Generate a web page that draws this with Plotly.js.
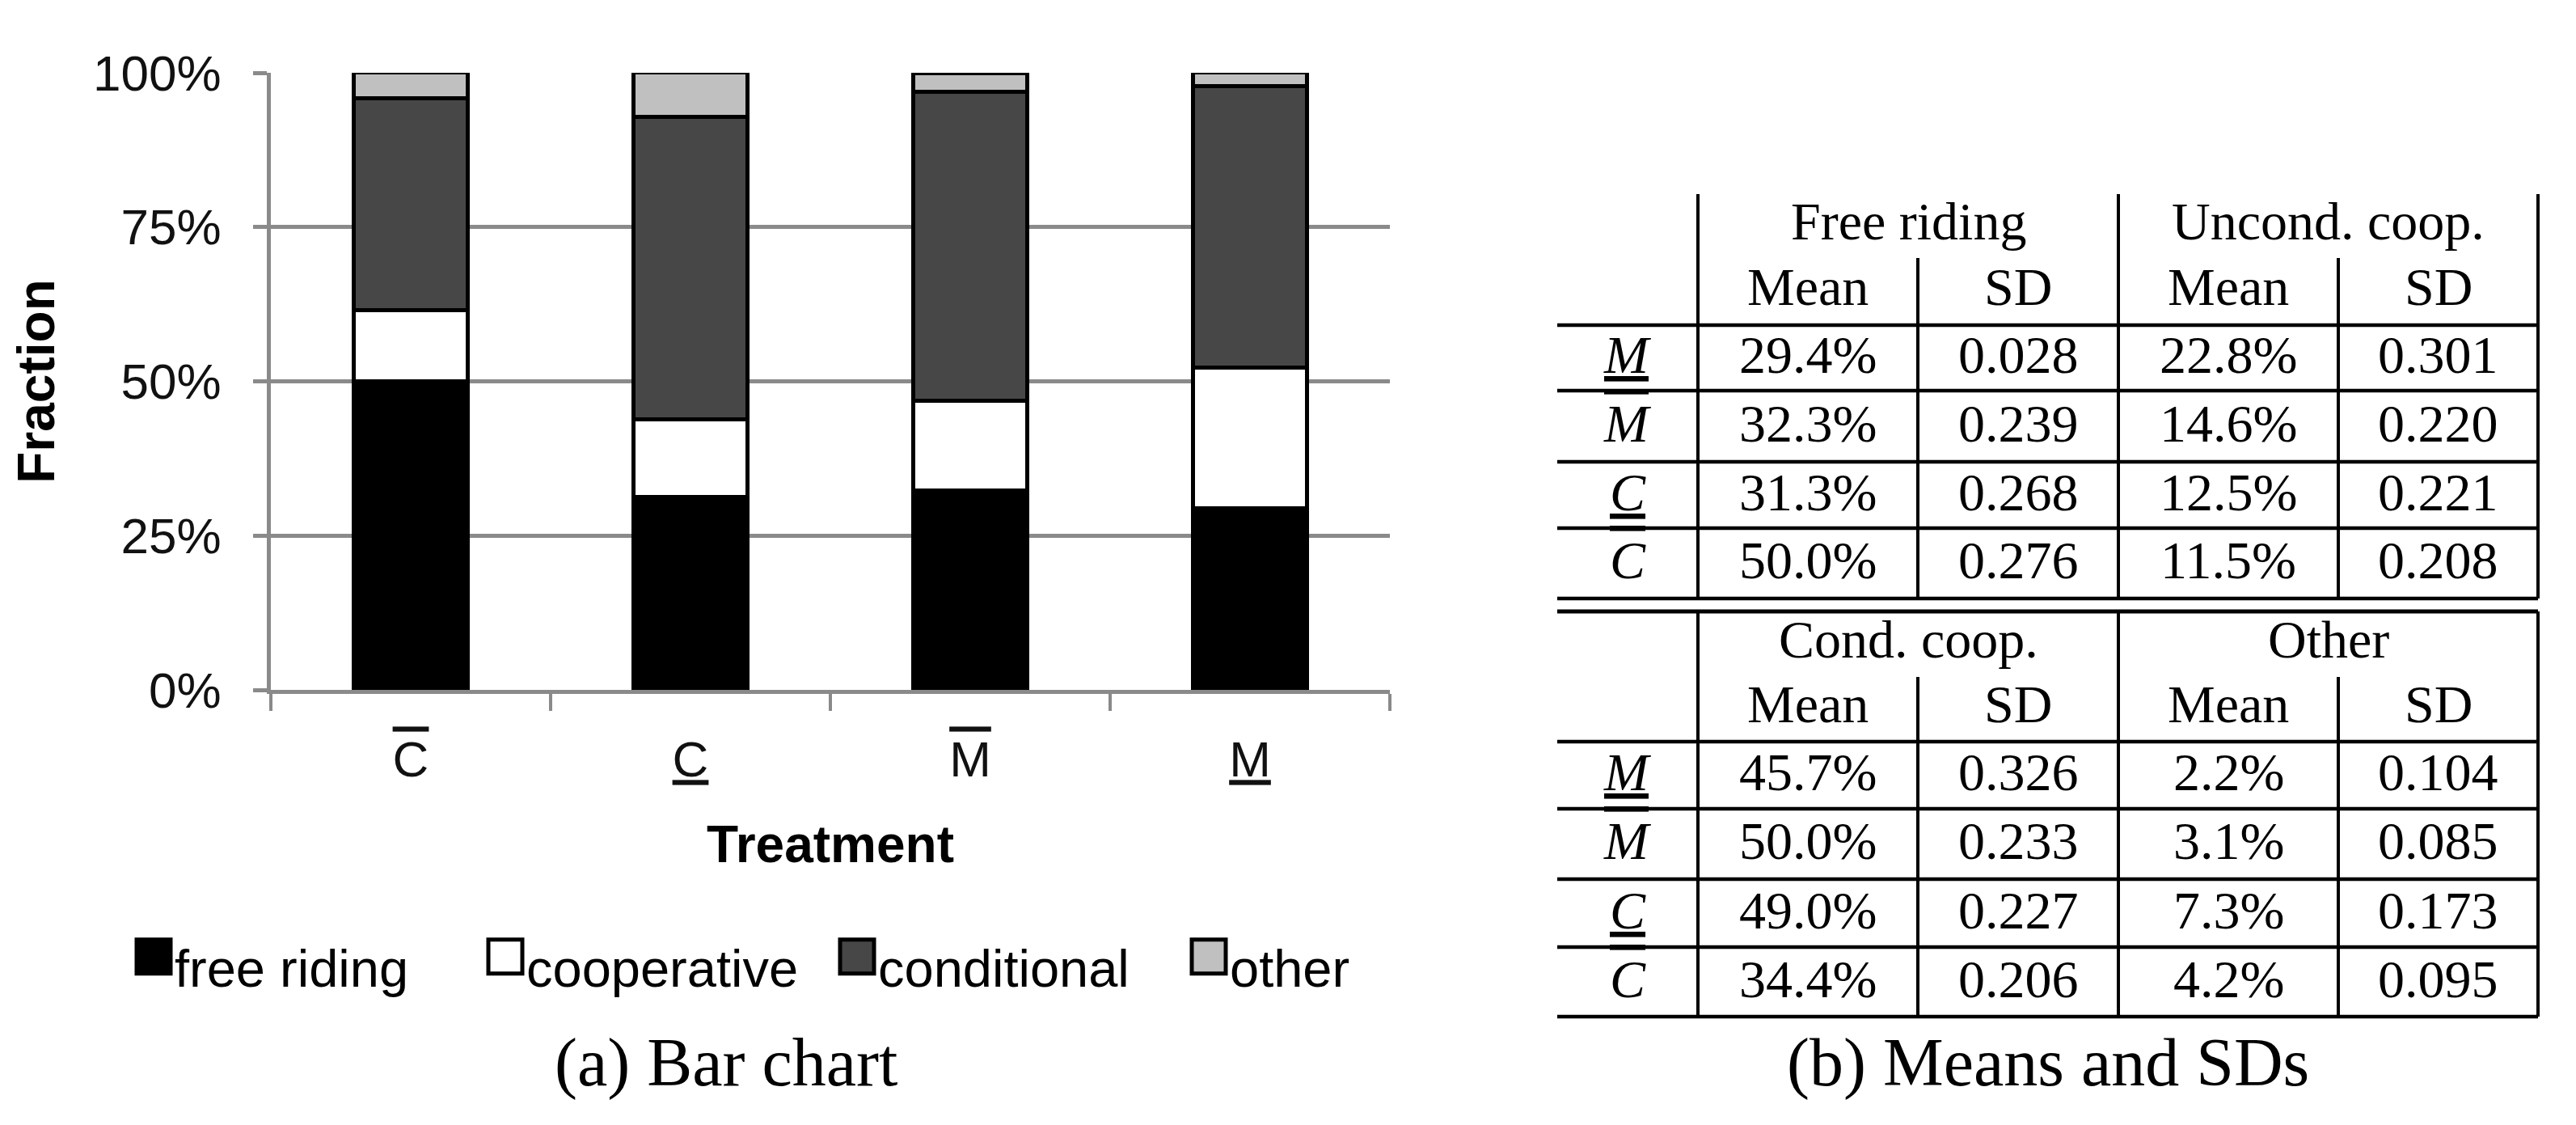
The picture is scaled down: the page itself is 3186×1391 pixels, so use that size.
<!DOCTYPE html>
<html>
<head>
<meta charset="utf-8">
<script src="https://cdn.plot.ly/plotly-3.0.1.min.js"></script>
<style>
html,body{margin:0;padding:0;background:#fff;}
#chart{width:3186px;height:1391px;}
</style>
</head>
<body>
<div id="chart"></div>
<script>
// ---------- data ----------
const treatments = [
  '<span style="text-decoration:overline;text-decoration-thickness:7px">C</span>',
  '<span style="text-decoration:underline;text-decoration-thickness:7px">C</span>',
  '<span style="text-decoration:overline;text-decoration-thickness:7px">M</span>',
  '<span style="text-decoration:underline;text-decoration-thickness:7px">M</span>'
];
const seriesNames = ['free riding', 'cooperative', 'conditional', 'other'];
const freeRiding  = [50.0, 31.3, 32.3, 29.4];
const cooperative = [11.5, 12.5, 14.6, 22.8];
const conditional = [34.4, 49.0, 50.0, 45.7];
const other       = [4.2, 7.3, 3.1, 2.2];

// table (rows in order M_, M-, C_, C-)
const tableRowLabels = [
  '<i><span style="text-decoration:underline;text-decoration-thickness:5px">M</span></i>',
  '<i><span style="text-decoration:overline;text-decoration-thickness:5px">M</span></i>',
  '<i><span style="text-decoration:underline;text-decoration-thickness:5px">C</span></i>',
  '<i><span style="text-decoration:overline;text-decoration-thickness:5px">C</span></i>'
];
const frMean = [29.4, 32.3, 31.3, 50.0];
const frSD   = [0.028, 0.239, 0.268, 0.276];
const ucMean = [22.8, 14.6, 12.5, 11.5];
const ucSD   = [0.301, 0.220, 0.221, 0.208];
const ccMean = [45.7, 50.0, 49.0, 34.4];
const ccSD   = [0.326, 0.233, 0.227, 0.206];
const otMean = [2.2, 3.1, 7.3, 4.2];
const otSD   = [0.104, 0.085, 0.173, 0.095];
const groupTitles = [['Free riding', 'Uncond. coop.'], ['Cond. coop.', 'Other']];
const subHeaders = ['Mean', 'SD', 'Mean', 'SD'];
const yTickVals = [0, 25, 50, 75, 100];
const yTickText = ['0%', '25%', '50%', '75%', '100%'];

// ---------- layout helpers ----------
const W = 3186, H = 1391;
const fx = x => x / W;
const fy = y => 1 - y / H;

const colors = ['#000000', '#ffffff', '#474747', '#c0c0c0'];
const values = [freeRiding, cooperative, conditional, other];

const traces = seriesNames.map((name, i) => ({
  type: 'bar',
  name: name,
  x: treatments,
  y: values[i],
  width: 0.41,
  marker: { color: colors[i], line: { color: '#000000', width: 5 } },
  hoverinfo: 'name+y'
}));

// ---------- table ----------
const serif = 'Liberation Serif, Times New Roman, serif';
const colX = [1926, 2100, 2372, 2620, 2892, 3139];
const blocks = [
  { top: 240, sub: 319, head: 402, rows: [402, 483, 571, 653, 740], topLine: false,
    means: [frMean, ucMean], sds: [frSD, ucSD], titles: groupTitles[0] },
  { top: 756, sub: 837, head: 917, rows: [917, 1000, 1087, 1171, 1257], topLine: true,
    means: [ccMean, otMean], sds: [ccSD, otSD], titles: groupTitles[1] }
];
const annotations = [];
const shapes = [];
const tFont = { family: serif, size: 66, color: '#000' };
const line = (x0, y0, x1, y1, w) => shapes.push({
  type: 'line', xref: 'paper', yref: 'paper',
  x0: fx(x0), y0: fy(y0), x1: fx(x1), y1: fy(y1),
  line: { color: '#000', width: w }
});
const txt = (s, x, y, font) => annotations.push({
  text: s, xref: 'paper', yref: 'paper', x: fx(x), y: fy(y),
  xanchor: 'center', yanchor: 'middle', showarrow: false, font: font || tFont
});

blocks.forEach(b => {
  const bottom = b.rows[b.rows.length - 1];
  if (b.topLine) line(colX[0], b.top, colX[5], b.top, 5);
  b.rows.forEach(y => line(colX[0], y, colX[5], y, 4.5));
  [1, 3, 5].forEach(c => line(colX[c], b.top, colX[c], bottom, 4));
  [2, 4].forEach(c => line(colX[c], b.sub, colX[c], bottom, 4));
  txt(b.titles[0], (colX[1] + colX[3]) / 2, (b.top + b.sub) / 2 - 6);
  txt(b.titles[1], (colX[3] + colX[5]) / 2, (b.top + b.sub) / 2 - 6);
  subHeaders.forEach((s, k) => txt(s, (colX[k + 1] + colX[k + 2]) / 2, (b.sub + b.head) / 2 - 6));
  tableRowLabels.forEach((lab, r) => {
    const yc = (b.rows[r] + b.rows[r + 1]) / 2 - 4;
    txt(lab, (colX[0] + colX[1]) / 2, yc);
    const cells = [
      b.means[0][r].toFixed(1) + '%', b.sds[0][r].toFixed(3),
      b.means[1][r].toFixed(1) + '%', b.sds[1][r].toFixed(3)
    ];
    cells.forEach((s, k) => txt(s, (colX[k + 1] + colX[k + 2]) / 2, yc));
  });
});

// captions
const capFont = { family: serif, size: 84, color: '#000' };
txt('(a) Bar chart', 898, 1314, capFont);
txt('(b) Means and SDs', (colX[0] + colX[5]) / 2, 1314, capFont);

const sans = 'Liberation Sans, Arial, sans-serif';
const layout = {
  width: W, height: H,
  margin: { l: 0, r: 0, t: 0, b: 0, pad: 0 },
  paper_bgcolor: '#fff', plot_bgcolor: '#fff',
  barmode: 'stack',
  showlegend: true,
  font: { family: sans, color: '#000' },
  xaxis: {
    domain: [fx(335), fx(1719)],
    type: 'category',
    showline: true, linecolor: '#8a8a8a', linewidth: 5,
    ticks: 'outside', tickson: 'boundaries', ticklen: 21, tickwidth: 4, tickcolor: '#8a8a8a',
    ticklabelstandoff: 28,
    tickfont: { family: sans, size: 62, color: '#111' },
    showgrid: false, zeroline: false,
    title: { text: '<b>Treatment</b>', font: { family: sans, size: 64, color: '#000' }, standoff: 50 }
  },
  yaxis: {
    domain: [fy(853), fy(90)],
    range: [0, 100],
    tickmode: 'array',
    tickvals: yTickVals,
    ticktext: yTickText,
    showline: true, linecolor: '#8a8a8a', linewidth: 5,
    ticks: 'outside', ticklen: 17, tickwidth: 5, tickcolor: '#8a8a8a',
    ticklabelstandoff: 27,
    showgrid: true, gridcolor: '#8a8a8a', gridwidth: 5,
    zeroline: false,
    tickfont: { family: sans, size: 62, color: '#111' },
    title: { text: '<b>Fraction</b>', font: { family: sans, size: 64, color: '#000' }, standoff: 28 }
  },
  legend: {
    orientation: 'h', traceorder: 'normal',
    x: fx(166), xanchor: 'left', y: fy(1195), yanchor: 'middle',
    font: { family: sans, size: 65, color: '#000' },
    itemwidth: 40, entrywidth: 380, entrywidthmode: 'pixels',
    bgcolor: 'rgba(0,0,0,0)'
  },
  annotations: annotations,
  shapes: shapes
};

Plotly.newPlot('chart', traces, layout, { staticPlot: true, displayModeBar: false }).then(gd => {
  // enlarge the legend swatches to the size used in the original figure
  gd.querySelectorAll('.legend .legendpoints path').forEach(p => {
    p.setAttribute('d', 'M20,9H-22V-33H20Z');
    p.style.strokeWidth = '5px';
    p.style.stroke = '#000';
  });
});
</script>
</body>
</html>
